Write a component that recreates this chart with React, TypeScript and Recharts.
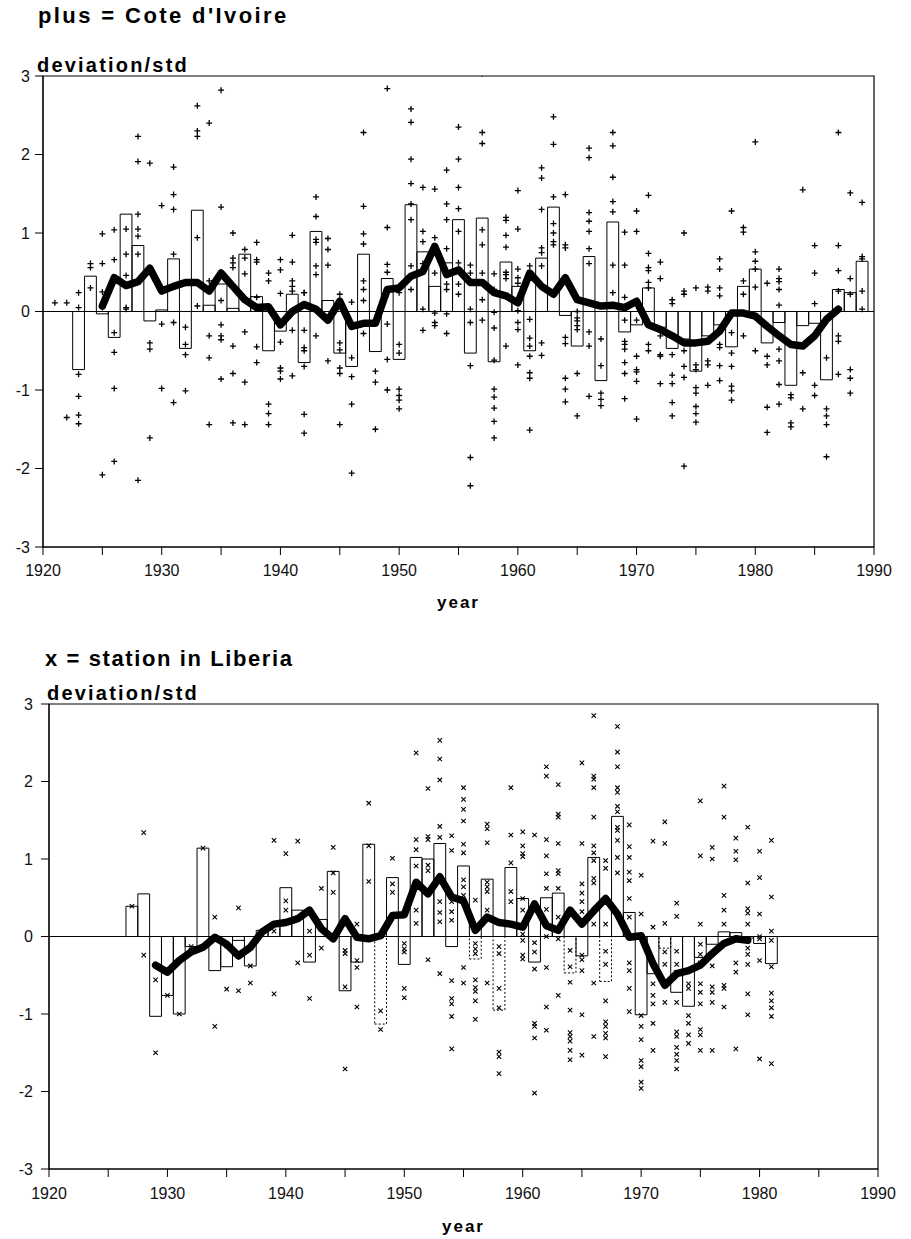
import React from 'react';
import {
  ComposedChart,
  XAxis,
  YAxis,
  Bar,
  Line,
  Scatter,
  ReferenceLine,
  ReferenceArea,
  Cell,
} from 'recharts';

// ---------- shared axis ticks ----------
const xTicks = [1920, 1925, 1930, 1935, 1940, 1945, 1950, 1955, 1960, 1965, 1970, 1975, 1980, 1985, 1990];
const yTicks = [-3, -2, -1, 0, 1, 2, 3];

// ---------- Cote d'Ivoire (top) ----------
const civMeanStart = 1923;
const civMeans = [
  -0.74, 0.45, -0.03, -0.33, 1.24, 0.84, -0.12, 0.02, 0.67, -0.47,
  1.29, 0.08, 0.35, 0.04, 0.73, 0.19, -0.5, -0.25, 0.22, -0.65,
  1.02, 0.14, -0.53, -0.7, 0.73, -0.51, 0.42, -0.61, 1.36, 0.76,
  0.32, 0.62, 1.17, -0.53, 1.19, -0.64, 0.63, 0.32, -0.5, 0.68,
  1.33, -0.05, -0.44, 0.7, -0.88, 1.14, -0.26, -0.17, 0.3, -0.2,
  -0.47, -0.35, -0.76, -0.31, -0.17, -0.45, 0.32, 0.54, -0.4, -0.14,
  -0.94, -0.18, -0.15, -0.87, 0.28, 0.24, 0.64,
];
const civSmoothStart = 1925;
const civSmooth = [
  0.07, 0.43, 0.33, 0.38, 0.55, 0.26, 0.32, 0.37, 0.37, 0.26,
  0.49, 0.32, 0.15, 0.05, 0.06, -0.17, 0.0, 0.09, 0.03, -0.11,
  0.13, -0.19, -0.15, -0.15, 0.28, 0.3, 0.45, 0.51, 0.83, 0.47,
  0.53, 0.37, 0.37, 0.24, 0.2, 0.11, 0.49, 0.32, 0.22, 0.43,
  0.15, 0.11, 0.07, 0.08, 0.05, 0.13, -0.17, -0.23, -0.31, -0.4,
  -0.4, -0.38, -0.25, -0.02, -0.02, -0.06, -0.19, -0.31, -0.42, -0.44,
  -0.31, -0.1, 0.03,
];
const civStations: [number, number[]][] = [
  [1921, [0.11]],
  [1922, [0.11, -1.35]],
  [1923, [0.24, 0.05, -0.8, -1.08, -1.32, -1.43]],
  [1924, [0.61, 0.56, 0.3]],
  [1925, [0.99, 0.61, 0.25, 0.05, -2.08]],
  [1926, [1.04, 0.66, -0.27, -0.52, -0.98, -1.91]],
  [1927, [1.05, 0.73, 0.46, 0.05, 0.03]],
  [1928, [2.23, 1.91, 1.24, 1.05, 0.96, 0.73, -2.15]],
  [1929, [1.89, -0.4, -0.48, -1.61]],
  [1930, [1.35, -0.16, -0.98]],
  [1931, [1.84, 1.49, 1.3, 0.73, -0.14, -1.16]],
  [1932, [-0.2, -0.42, -0.55, -1.01]],
  [1933, [2.62, 2.3, 2.23, 0.94, 0.07]],
  [1934, [2.4, 0.39, -0.31, -0.59, -1.44]],
  [1935, [2.82, 1.33, 0.14, -0.17, -0.31, -0.36, -0.86]],
  [1936, [1.0, 0.68, 0.62, 0.56, -0.44, -0.79, -1.42]],
  [1937, [0.79, 0.68, 0.48, -0.26, -0.9, -1.44]],
  [1938, [0.88, 0.66, 0.63, 0.18, -0.45, -0.65]],
  [1939, [0.49, 0.39, -1.18, -1.3, -1.44]],
  [1940, [0.66, 0.53, 0.23, -0.39, -0.72, -0.76, -0.86]],
  [1941, [0.97, 0.63, 0.39, 0.32, 0.26, -0.24, -0.82]],
  [1942, [0.24, 0.24, -0.24, -0.46, -0.5, -0.7, -1.31, -1.55]],
  [1943, [1.46, 1.21, 0.92, 0.88, 0.58, 0.47, -0.31]],
  [1944, [0.93, 0.79, 0.59, -0.63]],
  [1945, [0.22, -0.4, -0.49, -0.72, -0.79, -1.44]],
  [1946, [0.12, -0.59, -0.83, -1.18, -2.06]],
  [1947, [2.28, 1.34, 0.99, 0.86, 0.39, 0.28, 0.14, -0.28]],
  [1948, [-0.76, -0.9, -1.5]],
  [1949, [2.84, 1.07, 0.6, 0.5, -0.16, -0.61, -1.0]],
  [1950, [0.24, -0.42, -0.53, -0.99, -1.07, -1.13, -1.24]],
  [1951, [2.58, 2.41, 1.94, 1.63, 1.37, 1.17, 0.58, 0.28]],
  [1952, [1.58, 1.02, 0.89, 0.61, 0.03, -0.24]],
  [1953, [1.56, 0.94, 0.49, -0.02, -0.14, -0.18]],
  [1954, [1.8, 1.37, 1.17, 0.8, 0.35, 0.28, -0.03, -0.28]],
  [1955, [2.35, 1.94, 1.58, 1.31, 1.02, 0.62, 0.35, 0.22]],
  [1956, [0.59, 0.49, 0.03, -0.14, -0.69, -1.86, -2.22]],
  [1957, [3.03, 2.28, 2.14, 1.04, 0.85, 0.49, 0.15, -0.11]],
  [1958, [0.48, 0.28, -0.01, -0.21, -0.62, -0.99, -1.09, -1.23, -1.4, -1.61]],
  [1959, [1.2, 1.16, 0.97, 0.82, 0.5, 0.47, 0.42, -0.44]],
  [1960, [1.54, 1.05, 0.54, 0.43, 0.36, 0.01, -0.14, -0.23, -0.68]],
  [1961, [0.58, 0.49, -0.1, -0.34, -0.44, -0.57, -0.78, -0.85, -1.51]],
  [1962, [1.83, 1.7, 1.3, 0.81, 0.75, 0.58, -0.4, -0.56]],
  [1963, [2.48, 2.13, 1.46, 1.12, 1.0, 0.89, 0.85]],
  [1964, [1.49, 0.85, 0.81, -0.33, -0.41, -0.85, -0.99, -1.15]],
  [1965, [0.0, -0.08, -0.12, -0.18, -0.23, -0.79, -1.33]],
  [1966, [2.08, 1.96, 1.26, 1.15, 1.02, 0.8, 0.61, -0.26, -0.44, -1.08]],
  [1967, [-0.35, -0.69, -1.04, -1.12, -1.2]],
  [1968, [2.28, 2.11, 1.71, 1.4, 1.27, 0.59, 0.24]],
  [1969, [1.01, 0.59, 0.18, -0.11, -0.38, -0.42, -0.48, -0.65, -0.79, -1.11]],
  [1970, [1.28, 1.02, -0.11, -0.57, -0.74, -0.77, -0.89, -1.37]],
  [1971, [1.48, 0.74, 0.56, 0.52, 0.37, 0.3, -0.42, -0.5]],
  [1972, [0.63, 0.42, -0.31, -0.55, -0.57, -0.92]],
  [1973, [0.15, 0.1, -0.55, -0.81, -0.92, -1.16, -1.33]],
  [1974, [1.0, 0.26, 0.22, -0.5, -0.7, -0.84, -1.97]],
  [1975, [0.3, -0.68, -0.74, -0.97, -1.04, -1.21, -1.3, -1.41]],
  [1976, [0.31, 0.26, -0.63, -0.68, -0.94]],
  [1977, [0.67, 0.54, 0.3, 0.2, -0.42, -0.46, -0.69, -0.88]],
  [1978, [1.28, -0.27, -0.53, -0.7, -0.95, -1.01, -1.13]],
  [1979, [1.07, 1.01, 0.39, 0.22, -0.31]],
  [1980, [2.16, 0.76, 0.64, 0.54, 0.31, -0.5]],
  [1981, [0.36, -0.57, -0.68, -1.22, -1.54]],
  [1982, [0.54, 0.42, 0.38, 0.28, 0.08, -0.48, -0.63, -0.93, -1.18]],
  [1983, [-1.06, -1.1, -1.42, -1.47]],
  [1984, [1.55, -0.78, -1.24]],
  [1985, [0.84, 0.49, 0.1, -0.94, -1.07]],
  [1986, [-0.59, -1.24, -1.33, -1.44, -1.85]],
  [1987, [2.28, 0.84, 0.52, 0.26, -0.31, -0.38, -0.8]],
  [1988, [1.51, 0.42, 0.22, -0.74, -0.85, -1.04]],
  [1989, [1.39, 0.7, 0.67, 0.26, 0.03]],
];
const civDashedYears: number[] = [];

// ---------- Liberia (bottom) ----------
const libMeanStart = 1927;
const libMeans = [
  0.39, 0.55, -1.03, -0.76, -1.0, -0.13, 1.14, -0.44, -0.39, -0.05,
  -0.38, 0.08, 0.15, 0.63, 0.34, -0.33, 0.22, 0.84, -0.7, -0.33,
  1.19, -1.13, 0.76, -0.36, 1.02, 1.0, 1.2, -0.13, 0.91, -0.29,
  0.74, -0.95, 0.89, 0.49, -0.33, 0.5, 0.56, -0.47, -0.25, 1.02,
  -0.58, 1.55, 0.31, -1.01, -0.48, -0.15, -0.72, -0.9, -0.27, -0.1,
  0.06, 0.05, -0.02, -0.09, -0.35,
];
const libSmoothStart = 1929;
const libSmooth = [
  -0.37, -0.46, -0.31, -0.2, -0.14, -0.01, -0.1, -0.25, -0.14, 0.06,
  0.16, 0.18, 0.23, 0.34, 0.1, -0.03, 0.23, -0.01, -0.03, 0.01,
  0.27, 0.28, 0.7, 0.55, 0.77, 0.51, 0.46, 0.08, 0.25, 0.18,
  0.16, 0.12, 0.42, 0.14, 0.08, 0.34, 0.16, 0.33, 0.49, 0.29,
  -0.01, 0.01, -0.35, -0.63, -0.48, -0.44, -0.37, -0.22, -0.09, -0.03,
  -0.05,
];
const libStations: [number, number[]][] = [
  [1927, [0.39]],
  [1928, [1.34, -0.24]],
  [1929, [-0.56, -1.5]],
  [1930, [-0.76]],
  [1931, [-1.0]],
  [1932, [-0.13]],
  [1933, [1.14]],
  [1934, [0.25, -1.16]],
  [1935, [-0.12, -0.68]],
  [1936, [0.37, -0.7]],
  [1937, [-0.38, -0.6]],
  [1939, [1.24, 0.07, -0.74]],
  [1940, [1.07, 0.46, 0.34]],
  [1941, [1.23, -0.34]],
  [1942, [0.07, -0.24, -0.8]],
  [1943, [0.62, -0.15]],
  [1944, [1.15, 0.82, 0.57]],
  [1945, [-0.18, -0.22, -0.65, -1.71]],
  [1946, [0.16, -0.31, -0.4, -0.91]],
  [1947, [1.72, 1.17, 0.71]],
  [1948, [-0.96, -1.2]],
  [1949, [1.01, 0.68, 0.57]],
  [1950, [-0.09, -0.16, -0.2, -0.67, -0.79]],
  [1951, [2.37, 1.25, 1.12, 0.91, 0.34, 0.17]],
  [1952, [1.91, 1.29, 1.25, 0.92, 0.85, -0.3]],
  [1953, [2.53, 2.29, 2.02, 1.42, 1.28, 0.45, 0.31, 0.19, -0.48]],
  [1954, [1.3, 1.11, 0.45, 0.32, 0.21, -0.57, -0.8, -0.87, -1.03, -1.45]],
  [1955, [1.92, 1.77, 1.64, 1.49, 1.19, 1.08, 0.73, 0.64, 0.53, -0.4, -0.6]],
  [1956, [0.47, -0.09, -0.16, -0.22, -0.56, -0.66, -0.71, -0.83, -1.07]],
  [1957, [1.45, 1.39, 1.21, 0.7, 0.64, 0.58, 0.34, -0.6]],
  [1958, [-0.13, -0.22, -0.67, -0.92, -1.49, -1.55, -1.77]],
  [1959, [1.92, 1.31, 0.95, 0.58, 0.45]],
  [1960, [1.35, 1.17, 1.07, 1.03, 0.49, 0.34, 0.03, -0.05, -0.24, -0.29]],
  [1961, [1.31, -0.08, -0.2, -0.42, -1.12, -1.16, -1.31, -2.02]],
  [1962, [2.19, 2.07, 1.25, 1.04, 0.81, 0.62, 0.35, 0.0, -0.4, -0.91, -1.21]],
  [1963, [1.96, 1.58, 1.54, 1.2, 0.85, 0.81, 0.62, 0.25, -0.03, -0.76]],
  [1964, [3.05, -0.18, -0.39, -0.59, -0.95, -1.24, -1.29, -1.35, -1.47, -1.59]],
  [1965, [2.24, 1.2, 0.68, 0.56, 0.45, 0.32, -0.24, -0.3, -0.44, -1.01, -1.53]],
  [1966, [2.85, 2.07, 2.03, 1.92, 1.54, 1.17, 1.08, 0.98, 0.75, 0.69, 0.16, -0.6, -1.29]],
  [1967, [0.98, 0.88, 0.16, -0.19, -0.36, -0.83, -1.1, -1.16, -1.25, -1.31, -1.55]],
  [1968, [2.71, 2.38, 2.19, 1.92, 1.86, 1.68, 1.61, 1.41, 1.37, 1.24, 1.02, 0.82]],
  [1969, [1.44, 1.16, 1.02, 0.83, 0.72, 0.49, 0.25, -0.34, -0.44, -0.67, -0.97]],
  [1970, [0.79, 0.29, -1.02, -1.16, -1.33, -1.6, -1.68, -1.88, -1.96]],
  [1971, [1.23, 0.12, -0.61, -0.76, -0.87, -1.12, -1.47]],
  [1972, [1.48, 1.2, 0.17, -0.2, -0.36, -0.85]],
  [1973, [0.43, 0.26, -0.19, -0.36, -0.46, -0.85, -1.23, -1.29, -1.43, -1.52, -1.6, -1.71]],
  [1974, [-0.61, -0.67, -1.02, -1.12, -1.27, -1.38]],
  [1975, [1.75, 1.04, 0.16, -0.1, -0.23, -0.34, -0.61, -0.72, -0.87, -1.2, -1.27, -1.47]],
  [1976, [1.15, 1.0, -0.23, -0.38, -0.65, -0.72, -0.85, -1.47]],
  [1977, [1.94, 1.54, 0.53, 0.34, 0.16, -0.63, -0.67, -0.91]],
  [1978, [1.27, 1.1, 0.99, -0.34, -0.46, -1.45]],
  [1979, [1.41, 0.69, 0.36, 0.3, 0.16, -0.15, -0.23, -0.36, -0.74, -1.01]],
  [1980, [1.1, 0.76, 0.29, 0.0, -0.03, -0.31, -1.58]],
  [1981, [1.24, 0.51, 0.07, -0.05, -0.39, -0.73, -0.83, -0.92, -1.03, -1.64]],
];
const libDashedYears = [1948, 1956, 1958, 1964, 1967, 1972];

// ---------- helpers ----------
type Row = { year: number; mean?: number; smooth?: number };

function buildRows(meanStart: number, means: number[], smoothStart: number, smooth: number[]): Row[] {
  const map = new Map<number, Row>();
  means.forEach((v, i) => {
    const y = meanStart + i;
    map.set(y, { ...(map.get(y) || { year: y }), mean: v });
  });
  smooth.forEach((v, i) => {
    const y = smoothStart + i;
    map.set(y, { ...(map.get(y) || { year: y }), smooth: v });
  });
  return Array.from(map.values()).sort((a, b) => a.year - b.year);
}

function buildPoints(stations: [number, number[]][]) {
  const out: { year: number; v: number }[] = [];
  stations.forEach(([year, vals]) => vals.forEach((v) => out.push({ year, v })));
  return out;
}

const PlusMarker = (p: any) => {
  const { cx, cy } = p;
  if (cx == null || cy == null) return <g />;
  return (
    <path
      d={`M${cx - 3},${cy}H${cx + 3}M${cx},${cy - 3}V${cy + 3}`}
      stroke="#000"
      strokeWidth={1.3}
      fill="none"
    />
  );
};

const CrossMarker = (p: any) => {
  const { cx, cy } = p;
  if (cx == null || cy == null) return <g />;
  return (
    <path
      d={`M${cx - 2.2},${cy - 2.2}L${cx + 2.2},${cy + 2.2}M${cx - 2.2},${cy + 2.2}L${cx + 2.2},${cy - 2.2}`}
      stroke="#000"
      strokeWidth={1.1}
      fill="none"
    />
  );
};

const tickFont = { fill: '#111', fontSize: 16, fontFamily: 'Liberation Sans, Arial, sans-serif' };
const boldFont = 'Liberation Sans, Arial, Helvetica, sans-serif';

type PanelProps = {
  rows: Row[];
  points: { year: number; v: number }[];
  dashed: number[];
  marker: any;
  height: number;
  top: number;
  left: number;
  right: number;
  axisHeight: number;
  xTickMargin: number;
  yTickMargin: number;
  barSize: number;
};

function Panel(props: PanelProps) {
  const { rows, points, dashed, marker, height, top, left, right, axisHeight, xTickMargin, yTickMargin, barSize } = props;
  return (
    <ComposedChart
      width={911}
      height={height}
      data={rows}
      margin={{ top, right, bottom: 0, left: 0 }}
      barCategoryGap={0}
      barGap={0}
    >
      <XAxis
        type="number"
        dataKey="year"
        domain={[1920, 1990]}
        ticks={xTicks}
        interval={0}
        allowDataOverflow
        tickFormatter={(v: number) => (v % 10 === 0 ? String(v) : '')}
        tickSize={8}
        tickMargin={xTickMargin}
        height={axisHeight}
        stroke="#000"
        tick={tickFont}
        label={{
          value: 'year',
          position: 'insideBottom',
          offset: 5,
          style: { fontFamily: boldFont, fontWeight: 700, fontSize: 17, letterSpacing: 2, fill: '#000' },
        }}
      />
      <YAxis
        type="number"
        domain={[-3, 3]}
        ticks={yTicks}
        interval={0}
        allowDataOverflow
        width={left}
        tickSize={8}
        tickMargin={yTickMargin}
        stroke="#000"
        tick={tickFont}
      />
      <ReferenceArea x1={1920} x2={1990} y1={-3} y2={3} fill="none" stroke="#000" strokeWidth={1.2} ifOverflow="visible" />
      <ReferenceLine y={0} stroke="#000" strokeWidth={1} />
      <Bar dataKey="mean" fill="none" stroke="#000" strokeWidth={1} barSize={barSize} isAnimationActive={false}>
        {rows.map((r) => (
          <Cell key={r.year} strokeDasharray={dashed.includes(r.year) ? '2 2' : undefined} />
        ))}
      </Bar>
      <Scatter data={points} dataKey="v" shape={marker} isAnimationActive={false} />
      <Line
        type="linear"
        dataKey="smooth"
        stroke="#000"
        strokeWidth={7.5}
        strokeLinejoin="round"
        strokeLinecap="round"
        dot={false}
        activeDot={false}
        connectNulls={false}
        isAnimationActive={false}
      />
    </ComposedChart>
  );
}

const civRows = buildRows(civMeanStart, civMeans, civSmoothStart, civSmooth);
const civPoints = buildPoints(civStations);
const libRows = buildRows(libMeanStart, libMeans, libSmoothStart, libSmooth);
const libPoints = buildPoints(libStations);

export default function App() {
  const titleStyle: React.CSSProperties = {
    position: 'absolute',
    fontFamily: boldFont,
    fontWeight: 700,
    fontSize: 22,
    lineHeight: '22px',
    color: '#000',
    whiteSpace: 'nowrap',
  };
  const subStyle: React.CSSProperties = {
    position: 'absolute',
    fontFamily: boldFont,
    fontWeight: 700,
    fontSize: 20,
    lineHeight: '20px',
    letterSpacing: 2.2,
    color: '#000',
    whiteSpace: 'nowrap',
  };
  return (
    <div style={{ position: 'absolute', left: 0, top: 0, width: 911, height: 1239, background: '#fff', overflow: 'hidden' }}>
      <div style={{ position: 'absolute', left: 0, top: 0 }}>
        <Panel
          rows={civRows}
          points={civPoints}
          dashed={civDashedYears}
          marker={PlusMarker}
          height={613}
          top={76}
          left={43}
          right={37}
          axisHeight={66}
          xTickMargin={10}
          yTickMargin={5}
          barSize={11.8}
        />
      </div>
      <div style={{ position: 'absolute', left: 0, top: 620 }}>
        <Panel
          rows={libRows}
          points={libPoints}
          dashed={libDashedYears}
          marker={CrossMarker}
          height={617}
          top={84}
          left={49}
          right={33}
          axisHeight={68}
          xTickMargin={11}
          yTickMargin={8}
          barSize={11.8}
        />
      </div>
      <div style={{ ...titleStyle, left: 38, top: 5, letterSpacing: 2.4 }}>plus = Cote d'Ivoire</div>
      <div style={{ ...subStyle, left: 37, top: 55 }}>deviation/std</div>
      <div style={{ ...titleStyle, left: 45, top: 648, letterSpacing: 1.6 }}>x = station in Liberia</div>
      <div style={{ ...subStyle, left: 47, top: 683 }}>deviation/std</div>
    </div>
  );
}
